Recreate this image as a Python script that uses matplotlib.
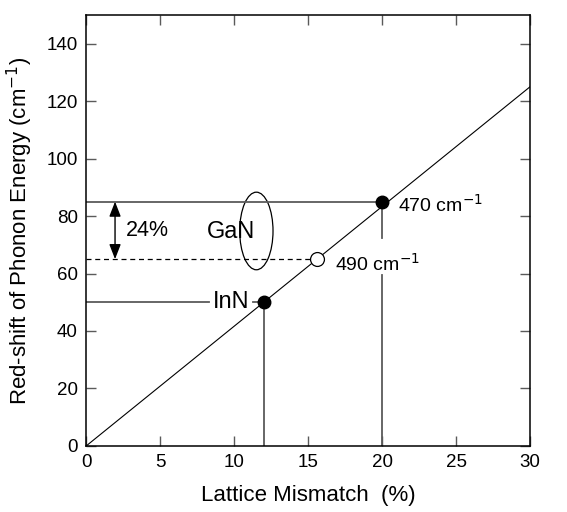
import numpy as np
import matplotlib.pyplot as plt
from matplotlib.patches import Ellipse

plt.rcParams['font.family'] = ['Liberation Sans', 'DejaVu Sans']

# linear relation between lattice mismatch and phonon red-shift
fit_x = [0, 30]
fit_y = [0, 125]

# InN and GaN points (mismatch %, red-shift cm-1)
inn_x, inn_y = 12, 50
gan_x, gan_y = 20, 85
gan2_x, gan2_y = 15.6, 65

xticks = [0, 5, 10, 15, 20, 25, 30]
yticks = [0, 20, 40, 60, 80, 100, 120, 140]

fig = plt.figure(figsize=(5.67, 5.12), dpi=100)
ax = fig.add_axes([0.152, 0.129, 0.783, 0.842])

grey = '#5a5a5a'

ax.plot(fit_x, fit_y, color='black', lw=0.8, zorder=2)

# guide lines
ax.plot([0, gan_x], [gan_y, gan_y], color=grey, lw=1.3)
ax.plot([gan_x, gan_x], [0, 59.6], color=grey, lw=1.3)
ax.plot([gan_x, gan_x], [72.5, gan_y], color=grey, lw=1.3)
ax.plot([0, gan2_x], [gan2_y, gan2_y], color='black', lw=0.9, ls=(0, (4, 3)))
ax.plot([0, 8.3], [inn_y, inn_y], color=grey, lw=1.3)
ax.plot([11.3, inn_x], [inn_y, inn_y], color=grey, lw=1.3)
ax.plot([inn_x, inn_x], [0, inn_y], color=grey, lw=1.3)

ax.plot([inn_x, gan_x], [inn_y, gan_y], 'o', color='black', ms=9, zorder=4)
ax.plot(gan2_x, gan2_y, 'o', mfc='white', mec='black', mew=0.9, ms=10, zorder=4)

ax.text(21.1, 84.0, '470 cm$^{-1}$', fontsize=14, va='center', ha='left')
ax.text(16.8, 63.5, '490 cm$^{-1}$', fontsize=14, va='center', ha='left')
ax.text(9.8, inn_y, 'InN', fontsize=17, va='center', ha='center')
ax.text(9.8, 74.5, 'GaN', fontsize=17, va='center', ha='center')
ax.text(2.7, 75.0, '24%', fontsize=15.5, va='center', ha='left')

ax.add_patch(Ellipse((11.5, 74.8), 2.25, 27, fill=False, color='black', lw=0.9))

ax.annotate('', xy=(1.95, gan_y), xytext=(1.95, gan2_y),
            arrowprops=dict(arrowstyle='<|-|>,head_length=0.9,head_width=0.35',
                            color='black', lw=1.0, shrinkA=0, shrinkB=0))

ax.set_xlim(0, 30)
ax.set_ylim(0, 150)
ax.set_xticks(xticks)
ax.set_yticks(yticks)
ax.tick_params(direction='in', length=7, width=1.0, color=grey, labelsize=13.5,
               top=True, right=True, pad=6)
for s in ax.spines.values():
    s.set_linewidth(1.1)

ax.set_xlabel('Lattice Mismatch  (%)', fontsize=16, labelpad=10)
ax.set_ylabel('Red-shift of Phonon Energy (cm$^{-1}$)', fontsize=16, labelpad=8)

fig.savefig('out.png', dpi=100)
